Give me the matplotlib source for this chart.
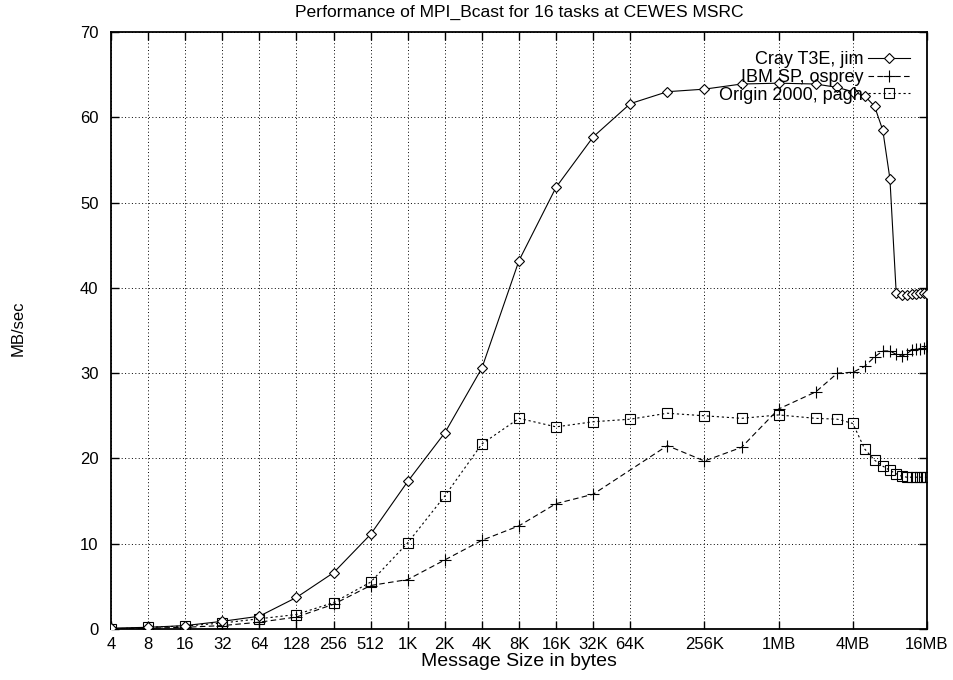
import matplotlib
matplotlib.use('Agg')
import matplotlib.pyplot as plt

plt.rcParams['font.family'] = ['Liberation Sans', 'DejaVu Sans']
plt.rcParams['font.size'] = 12

K = 1024
MB = 1024 * 1024

# message sizes (bytes) at which the broadcast was timed
sizes = [4, 8, 16, 32, 64, 128, 256, 512,
         1 * K, 2 * K, 4 * K, 8 * K, 16 * K, 32 * K, 64 * K, 128 * K, 256 * K, 512 * K,
         1 * MB, 2 * MB, 3 * MB, 4 * MB, 5 * MB, 6 * MB, 7 * MB, 8 * MB,
         9 * MB, 10 * MB, 11 * MB, 12 * MB, 13 * MB, 14 * MB, 15 * MB, 16 * MB]

cray_t3e = [0.1, 0.2, 0.4, 0.9, 1.5, 3.7, 6.6, 11.1,
            17.3, 23.0, 30.6, 43.2, 51.8, 57.7, 61.6, 63.0, 63.3, 63.9,
            64.0, 63.9, 63.5, 63.0, 62.5, 61.3, 58.5, 52.8,
            39.4, 39.2, 39.2, 39.3, 39.3, 39.4, 39.4, 39.3]

# the SP run has no 64K sample
ibm_sizes = [s for s in sizes if s != 64 * K]
ibm_sp = [0.0, 0.1, 0.2, 0.4, 0.8, 1.4, 2.9, 5.1,
          5.8, 8.1, 10.4, 12.1, 14.7, 15.8, 21.5, 19.7, 21.3,
          25.8, 27.8, 30.0, 30.1, 30.8, 31.9, 32.6, 32.6,
          32.2, 32.0, 32.3, 32.7, 32.8, 32.8, 33.0, 33.2]

origin_2000 = [0.0, 0.2, 0.35, 0.7, 1.2, 1.7, 3.1, 5.5,
               10.1, 15.6, 21.7, 24.7, 23.7, 24.3, 24.6, 25.3, 25.0, 24.7,
               25.1, 24.7, 24.6, 24.1, 21.1, 19.8, 19.1, 18.6,
               18.2, 17.9, 17.8, 17.8, 17.8, 17.8, 17.8, 17.8]

tick_sizes = [4, 8, 16, 32, 64, 128, 256, 512, 1 * K, 2 * K, 4 * K, 8 * K,
              16 * K, 32 * K, 64 * K, 256 * K, 1 * MB, 4 * MB, 16 * MB]
tick_labels = ['4', '8', '16', '32', '64', '128', '256', '512', '1K', '2K', '4K', '8K',
               '16K', '32K', '64K', '256K', '1MB', '4MB', '16MB']

W, H = 954, 680
fig = plt.figure(figsize=(W / 100, H / 100), dpi=100)
ax = fig.add_axes([111 / W, 1 - 629 / H, (927 - 111) / W, (629 - 32) / H])

ax.plot(sizes, cray_t3e, color='black', lw=0.8, marker='D', ms=5, mfc='white',
        mec='black', mew=0.8, label='Cray T3E, jim', zorder=4)
ax.plot(ibm_sizes, ibm_sp, color='black', lw=0.8, dashes=(5, 3), marker='+', ms=8,
        mew=0.8, label='IBM SP, osprey', zorder=3)
ax.plot(sizes, origin_2000, color='black', lw=0.8, dashes=(2, 2.5), marker='s', ms=7,
        mfc='none', mec='black', mew=0.8, label='Origin 2000, pagh', zorder=3)

ax.set_xscale('log', base=2)
ax.set_xlim(4, 16 * MB)
ax.set_ylim(0, 70)
ax.set_xticks(tick_sizes)
ax.set_xticklabels(tick_labels)
ax.xaxis.set_minor_locator(matplotlib.ticker.NullLocator())
ax.set_yticks(range(0, 71, 10))

ax.grid(True, color='black', linestyle=(0, (1, 2.5)), lw=0.7)
ax.tick_params(direction='in', length=6, width=1, top=True, right=True, labelsize=12)
ax.tick_params(axis='y', pad=9)
ax.tick_params(axis='x', pad=6)
for sp in ax.spines.values():
    sp.set_linewidth(1.3)

fig.text(519 / W, 1 - 12 / H, 'Performance of MPI_Bcast for 16 tasks at CEWES MSRC',
         ha='center', va='center', fontsize=12.6)
fig.text(519 / W, 1 - 662 / H, 'Message Size in bytes', ha='center', va='center', fontsize=14)
fig.text(18 / W, 1 - 328 / H, 'MB/sec', ha='center', va='center', rotation=90, fontsize=12)

ax.legend(loc='upper right', bbox_to_anchor=(910 / W, 1 - 51 / H), bbox_transform=fig.transFigure,
          frameon=False, markerfirst=False, handlelength=2.3, labelspacing=0.05,
          handletextpad=0.3, borderpad=0, borderaxespad=0, fontsize=13)

fig.savefig('out.png', dpi=100)
